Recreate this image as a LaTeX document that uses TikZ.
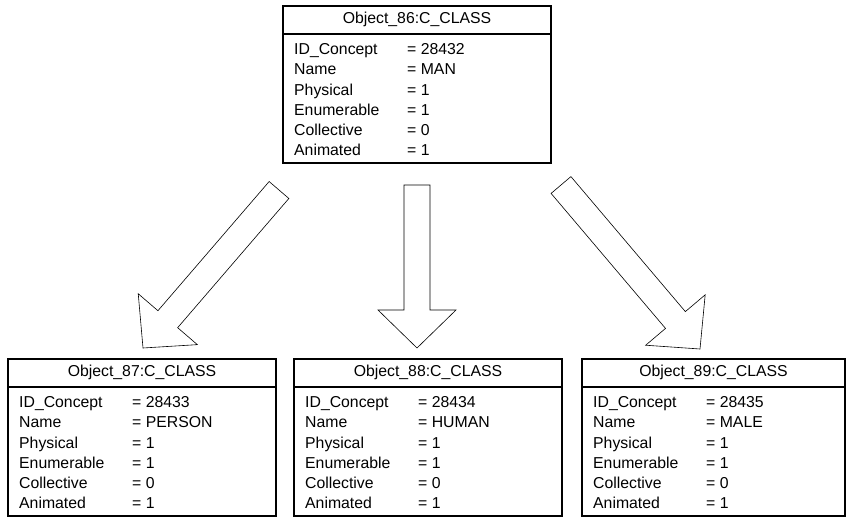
\documentclass[tikz,border=0pt]{standalone}
\usepackage{fontspec}
\setmainfont{Liberation Sans}
\usetikzlibrary{calc}

\newcommand\objtext{\fontsize{15.8pt}{19pt}\selectfont}

\tikzset{
  objframe/.style={draw, line width=2pt, minimum width=268pt, minimum height=157pt,
                   inner sep=0pt, anchor=north west},
  objrule/.style={line width=2pt},
  objtitle/.style={font=\objtext, inner sep=0pt, anchor=center},
  objrow/.style={font=\objtext, inner sep=0pt, anchor=base west},
  blockarrow/.style={draw, line width=0.6pt, fill=white, line join=miter},
}

% Object box: [#1] extra frame options, #2 name, #3 top-left corner, #4 title,
% #5 list of label/value pairs
\newcommand\objbox[5][]{%
  \node[objframe, #1] (#2) at (#3) {};
  \draw[objrule] ($(#2.north west)+(0,29)$) -- ($(#2.north east)+(0,29)$);
  \node[objtitle] (#2-title) at ($(#2.north)+(0,14.5)$) {#4};
  \foreach [count=\i] \lab/\val in {#5} {
    \node[objrow] (#2-l\i) at ($(#2.north west)+(12,{49.7+(\i-1)*20.2})$) {\lab};
    \node[objrow] (#2-v\i) at ($(#2.north west)+(125,{49.7+(\i-1)*20.2})$) {= \val};
  }%
}

% Hollow block arrow: #1 name, #2 tail coordinate, #3 tip coordinate
\newcommand\blockarrow[3]{%
  \coordinate (#1-h) at ($(#3)!38pt!(#2)$);
  \draw[blockarrow]
    ($(#2)!13pt!90:(#3)$) -- ($(#1-h)!13pt!90:(#3)$) -- ($(#1-h)!39pt!90:(#3)$)
    -- (#3)
    -- ($(#1-h)!39pt!-90:(#3)$) -- ($(#1-h)!13pt!-90:(#3)$) -- ($(#2)!13pt!-90:(#3)$)
    -- cycle;%
}

\begin{document}
\begin{tikzpicture}[x=1pt, y=-1pt]
  \useasboundingbox (0,0) rectangle (846,524);

  \objbox{o86}{282,5}{Object\_86:C\_CLASS}{%
    ID\_Concept/28432, Name/MAN, Physical/1, Enumerable/1, Collective/0, Animated/1}
  \objbox{o87}{7,358}{Object\_87:C\_CLASS}{%
    ID\_Concept/28433, Name/PERSON, Physical/1, Enumerable/1, Collective/0, Animated/1}
  \objbox{o88}{293,358}{Object\_88:C\_CLASS}{%
    ID\_Concept/28434, Name/HUMAN, Physical/1, Enumerable/1, Collective/0, Animated/1}
  \objbox[minimum width=263pt]{o89}{581,358}{Object\_89:C\_CLASS}{%
    ID\_Concept/28435, Name/MALE, Physical/1, Enumerable/1, Collective/0, Animated/1}

  % arrow ends
  \coordinate (a87-s) at (279,190);
  \coordinate (a87-e) at (143,348);
  \coordinate (a88-s) at (417,185);
  \coordinate (a88-e) at (417,348);
  \coordinate (a89-s) at (561,185);
  \coordinate (a89-e) at (700,349);

  \blockarrow{a87}{a87-s}{a87-e}
  \blockarrow{a88}{a88-s}{a88-e}
  \blockarrow{a89}{a89-s}{a89-e}
\end{tikzpicture}
\end{document}
